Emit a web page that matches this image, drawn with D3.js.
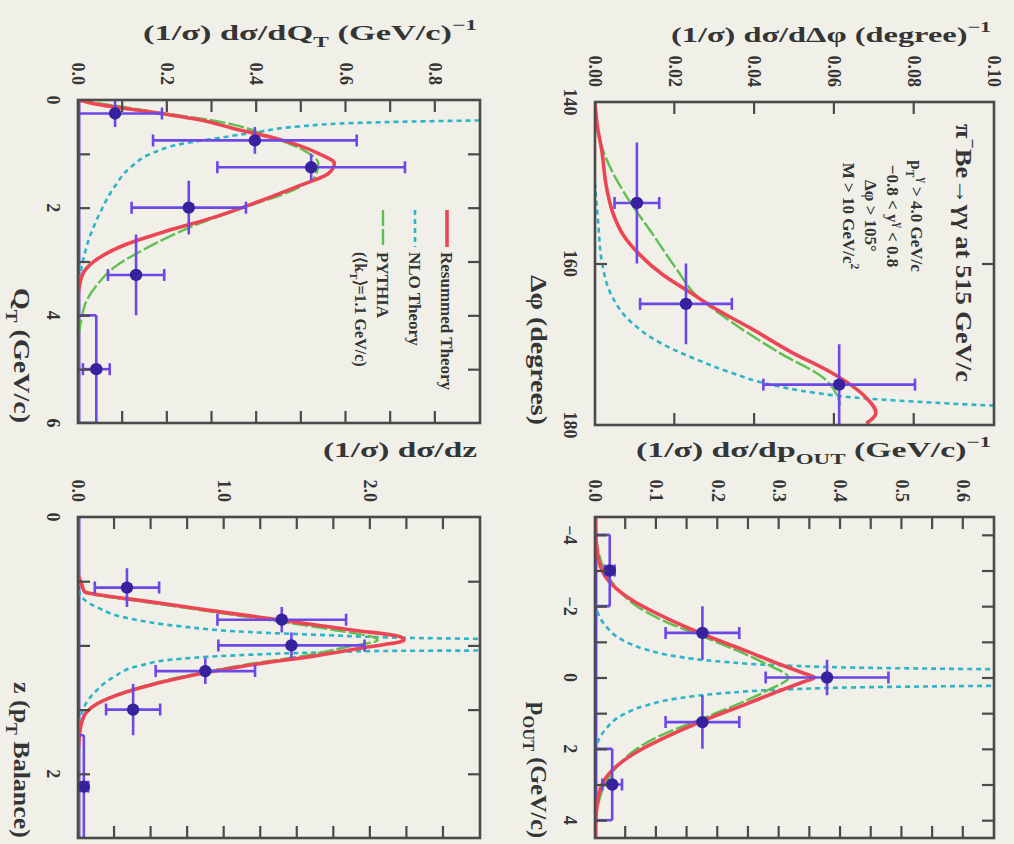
<!DOCTYPE html>
<html>
<head>
<meta charset="utf-8">
<script src="https://cdn.jsdelivr.net/npm/d3@7"></script>
<style>
  html, body { margin: 0; padding: 0; background: #f0f0e9; }
  svg { display: block; }
  text { font-family: "Liberation Serif", "Times New Roman", serif; font-weight: bold; fill: #353535; }
</style>
</head>
<body>
<div id="chart"></div>
<script>
// ------------------------------------------------------------
// values
// ------------------------------------------------------------

// delta phi panel
const dphiBins = [[145, 160], [160, 170], [170, 180]];
const dphiVals = [0.0105, 0.0228, 0.0612];
const dphiErrs = [0.0056, 0.0115, 0.019];
const dphiResummed = [[140, 0], [143, 0.0006], [146, 0.0017], [150.6, 0.0029], [153.9, 0.0046], [156.4, 0.007],
  [158.9, 0.0112], [161.4, 0.017], [163.5, 0.0236], [165.6, 0.0302], [168.1, 0.0393], [171, 0.0493],
  [173.5, 0.0592], [176.4, 0.0675], [178.5, 0.0704], [179.8, 0.068]];
const dphiPythia = [[140, 0], [143.9, 0.0008], [148.9, 0.0046], [152.3, 0.0087], [156.4, 0.0145], [160.6, 0.0203],
  [163.9, 0.0253], [167.3, 0.0344], [171, 0.046], [174.3, 0.0576], [177.5, 0.0615]];
const dphiNLO = [[150, 0], [155, 0.0008], [160, 0.0018], [164, 0.0042], [167, 0.0085], [170, 0.017], [172, 0.026],
  [173.5, 0.034], [175, 0.044], [176, 0.055], [176.6, 0.065], [177.1, 0.08], [177.6, 0.1], [177.8, 0.11]];

// p_OUT panel
const poutBins = [[-4, -2], [-2, -0.5], [-0.5, 0.5], [0.5, 2], [2, 4]];
const poutVals = [0.024, 0.175, 0.378, 0.175, 0.028];
const poutErrs = [0.008, 0.06, 0.1, 0.06, 0.016];
const poutResummed = [[-4.5, 0], [-3.8, 0.002], [-3.1, 0.009], [-2.6, 0.028], [-2.15, 0.062], [-1.65, 0.118],
  [-1.17, 0.182], [-0.74, 0.247], [-0.37, 0.301], [-0.12, 0.34], [0, 0.358], [0.12, 0.34], [0.37, 0.301],
  [0.74, 0.247], [1.17, 0.182], [1.65, 0.118], [2.15, 0.062], [2.6, 0.028], [3.1, 0.009], [3.8, 0.002], [4.5, 0]];
const poutPythia = [[-4.5, 0], [-4, 0.001], [-3.5, 0.006], [-3, 0.016], [-2.5, 0.036], [-2, 0.068], [-1.6, 0.11],
  [-1.2, 0.168], [-0.75, 0.232], [-0.37, 0.28], [0, 0.315], [0.37, 0.28], [0.75, 0.232], [1.2, 0.168],
  [1.6, 0.11], [2, 0.068], [2.5, 0.036], [3, 0.016], [3.5, 0.006], [4, 0.001], [4.5, 0]];
const poutNLOneg = [[-2.1, 0], [-1.5, 0.015], [-1.05, 0.045], [-0.8, 0.08], [-0.6, 0.13], [-0.44, 0.209],
  [-0.33, 0.318], [-0.27, 0.45], [-0.23, 0.66]];
const poutNLOpos = [[0.23, 0.66], [0.27, 0.45], [0.33, 0.318], [0.44, 0.209], [0.6, 0.13], [0.8, 0.08],
  [1.05, 0.045], [1.5, 0.015], [2.1, 0]];

// Q_T panel
const qtBins = [[0, 0.5], [0.5, 1], [1, 1.5], [1.5, 2.5], [2.5, 4], [4, 6]];
const qtVals = [0.083, 0.396, 0.522, 0.248, 0.13, 0.041];
const qtErrs = [0.105, 0.228, 0.21, 0.128, 0.063, 0.03];
const qtResummed = [[0, 0], [0.06, 0.03], [0.25, 0.185], [0.37, 0.274], [0.53, 0.348], [0.75, 0.459], [1.0, 0.54],
  [1.18, 0.574], [1.37, 0.56], [1.59, 0.496], [1.9, 0.4], [2.18, 0.304], [2.43, 0.2], [2.67, 0.111],
  [2.95, 0.044], [3.17, 0.015], [3.42, 0.004], [3.7, 0], [6, 0]];
const qtPythia = [[0, 0], [0.19, 0.148], [0.43, 0.333], [0.68, 0.43], [0.93, 0.504], [1.18, 0.538], [1.43, 0.53],
  [1.68, 0.48], [2.02, 0.363], [2.36, 0.252], [2.74, 0.156], [3.11, 0.081], [3.42, 0.044], [3.73, 0.019],
  [4.1, 0.007], [4.48, 0.001], [5, 0], [6, 0]];
const qtNLO = [[0.37, 1.0], [0.38, 0.9], [0.42, 0.644], [0.49, 0.496], [0.59, 0.407], [0.71, 0.311], [0.82, 0.23],
  [1.0, 0.163], [1.24, 0.119], [1.62, 0.081], [2.05, 0.052], [2.55, 0.026], [2.99, 0.011], [3.3, 0.004], [3.6, 0]];

// z panel
const zBins = [[0.4, 0.7], [0.7, 0.9], [0.9, 1.1], [1.1, 1.3], [1.3, 1.7], [1.7, 2.5]];
const zVals = [0.335, 1.394, 1.46, 0.871, 0.377, 0.04];
const zErrs = [0.22, 0.44, 0.5, 0.34, 0.185, 0.03];
const zResummed = [[0, 0], [0.43, 0], [0.52, 0.024], [0.585, 0.047], [0.603, 0.127], [0.657, 0.474], [0.733, 0.936],
  [0.805, 1.4], [0.878, 1.86], [0.935, 2.21], [0.96, 2.23], [1.013, 1.98], [1.08, 1.63], [1.155, 1.17],
  [1.246, 0.728], [1.337, 0.404], [1.43, 0.173], [1.52, 0.058], [1.61, 0.023], [1.74, 0.007], [1.85, 0], [2.5, 0]];
const zPythia = [[0.45, 0], [0.55, 0.03], [0.6, 0.1], [0.66, 0.45], [0.735, 0.9], [0.81, 1.35], [0.88, 1.75],
  [0.94, 2.03], [0.96, 2.05], [1.01, 1.85], [1.08, 1.55], [1.155, 1.12], [1.246, 0.7], [1.34, 0.38],
  [1.43, 0.17], [1.52, 0.06], [1.6, 0.02], [1.7, 0]];
const zNLOlow = [[0.5, 0], [0.597, 0.0125], [0.701, 0.127], [0.792, 0.358], [0.852, 0.705], [0.896, 1.168],
  [0.922, 1.745], [0.94, 2.207], [0.95, 2.8]];
const zNLOhigh = [[1.04, 2.8], [1.042, 2.207], [1.055, 1.63], [1.073, 1.168], [1.104, 0.705], [1.156, 0.428],
  [1.247, 0.243], [1.351, 0.127], [1.455, 0.053], [1.533, 0.023], [1.6, 0]];

// ticks and labels
const dphiXLabels = [140, 160, 180], dphiXTicks = [160];
const dphiYLabels = [0, 0.02, 0.04, 0.06, 0.08, 0.10], dphiYTicks = [0.02, 0.04, 0.06, 0.08];
const poutXLabels = [-4, -2, 0, 2, 4], poutXTicks = [-4, -3, -2, -1, 0, 1, 2, 3, 4];
const poutYLabels = [0, 0.1, 0.2, 0.3, 0.4, 0.5, 0.6];
const poutYTicks = [0.05, 0.1, 0.15, 0.2, 0.25, 0.3, 0.35, 0.4, 0.45, 0.5, 0.55, 0.6];
const qtXLabels = [0, 2, 4, 6], qtXTicks = [1, 2, 3, 4, 5];
const qtYLabels = [0, 0.2, 0.4, 0.6, 0.8], qtYTicks = [0.1, 0.2, 0.3, 0.4, 0.5, 0.6, 0.7, 0.8];
const zXLabels = [0, 2], zXTicks = [0.5, 1, 1.5, 2];
const zYLabels = [0, 1, 2], zYTicks = [0.25, 0.5, 0.75, 1, 1.25, 1.5, 1.75, 2, 2.25, 2.5];

const legendNames = ["Resummed Theory", "NLO Theory", "PYTHIA"];

// ------------------------------------------------------------
// styles
// ------------------------------------------------------------
const BG = "#f0f0e9";
const FRAME = "#4a4a4a";
const BAR = "#6c48e6";
const DOT = "#35229c";
const curveStyle = {
  resummed: { stroke: "#ec4655", width: 3.6, dash: null },
  pythia: { stroke: "#5fbf4f", width: 2.4, dash: "16,3" },
  nlo: { stroke: "#2cb4c8", width: 2.6, dash: "5,4" }
};

const WIDTH = 1014, HEIGHT = 844;

const svg = d3.select("#chart").append("svg")
  .attr("width", WIDTH)
  .attr("height", HEIGHT);

svg.append("rect").attr("width", WIDTH).attr("height", HEIGHT).attr("fill", BG);

// the whole figure is turned a quarter turn clockwise
const root = svg.append("g").attr("transform", `translate(${WIDTH},0) rotate(90)`);

// text with sub / superscript pieces
function richText(el, parts, fs) {
  let shift = 0;
  parts.forEach(([t, kind]) => {
    const target = kind === "sub" ? 0.32 * fs : kind === "sup" ? -0.45 * fs : 0;
    el.append("tspan")
      .attr("dy", target - shift)
      .attr("font-size", kind ? fs * 0.68 : fs)
      .text(t);
    shift = target;
  });
}

function drawPanel(p) {
  const g = root.append("g").attr("transform", `translate(${p.u0},${p.v0})`);
  const x = d3.scaleLinear().domain(p.xDomain).range([0, p.w]);
  const y = d3.scaleLinear().domain(p.yDomain).range([p.h, 0]);

  const clipId = "clip-" + p.id;
  g.append("clipPath").attr("id", clipId)
    .append("rect").attr("width", p.w).attr("height", p.h);
  const plot = g.append("g").attr("clip-path", `url(#${clipId})`);

  if (p.zeroLine) {
    plot.append("line")
      .attr("x1", 0).attr("x2", p.w)
      .attr("y1", y(0) - 1).attr("y2", y(0) - 1)
      .attr("stroke", BAR).attr("stroke-width", 3);
  }

  // theory curves
  const line = d3.line()
    .x(d => x(d[0]))
    .y(d => y(d[1]))
    .curve(d3.curveMonotoneX);

  p.curves.forEach(([data, kind]) => {
    const s = curveStyle[kind];
    plot.append("path")
      .attr("d", line(data))
      .attr("fill", "none")
      .attr("stroke", s.stroke)
      .attr("stroke-width", s.width)
      .attr("stroke-dasharray", s.dash)
      .attr("stroke-linejoin", "round");
  });

  // data points
  const pts = p.bins.map((b, i) => ({ lo: b[0], hi: b[1], val: p.vals[i], err: p.errs[i], i }));
  const bars = plot.append("g")
    .attr("stroke", BAR)
    .attr("stroke-width", 2.6);

  pts.forEach(d => {
    const yc = y(d.val);
    const xc = x((d.lo + d.hi) / 2);
    bars.append("line").attr("x1", x(d.lo)).attr("x2", x(d.hi)).attr("y1", yc).attr("y2", yc);
    bars.append("line").attr("x1", xc).attr("x2", xc).attr("y1", y(d.val - d.err)).attr("y2", y(d.val + d.err));
    [d.val - d.err, d.val + d.err].forEach(v => {
      bars.append("line").attr("x1", xc - 6).attr("x2", xc + 6).attr("y1", y(v)).attr("y2", y(v));
    });
    if (p.brackets.includes(d.i)) {
      [d.lo, d.hi].forEach(e => {
        bars.append("line").attr("x1", x(e)).attr("x2", x(e)).attr("y1", y(0)).attr("y2", yc);
      });
    }
  });

  g.append("g")
    .selectAll("circle")
    .data(pts)
    .join("circle")
    .attr("cx", d => x((d.lo + d.hi) / 2))
    .attr("cy", d => y(d.val))
    .attr("r", 6.2)
    .attr("fill", DOT);

  // frame
  g.append("rect")
    .attr("width", p.w).attr("height", p.h)
    .attr("fill", "none")
    .attr("stroke", FRAME)
    .attr("stroke-width", 2.6);

  // inward ticks on all four sides
  const TICK = 12;
  const tickAxes = [
    [d3.axisBottom(x).tickValues(p.xTicks), `translate(0,${p.h})`],
    [d3.axisTop(x).tickValues(p.xTicks), "translate(0,0)"],
    [d3.axisLeft(y).tickValues(p.yTicks), "translate(0,0)"],
    [d3.axisRight(y).tickValues(p.yTicks), `translate(${p.w},0)`]
  ];
  tickAxes.forEach(([ax, tr]) => {
    const a = g.append("g")
      .attr("transform", tr)
      .call(ax.tickSizeInner(-TICK).tickSizeOuter(0).tickFormat(""));
    a.select(".domain").remove();
    a.selectAll(".tick line").attr("stroke", FRAME).attr("stroke-width", 2.2);
  });

  // tick labels
  const yl = g.append("g")
    .call(d3.axisLeft(y).tickValues(p.yLabels).tickSize(0).tickPadding(15).tickFormat(d3.format(p.yFormat)));
  yl.select(".domain").remove();
  yl.selectAll("text")
    .attr("font-size", 18)
    .attr("font-family", null)
    .attr("fill", "#353535");

  g.append("g")
    .selectAll("text")
    .data(p.xLabels)
    .join("text")
    .attr("x", d => x(d))
    .attr("y", p.h + 31)
    .attr("text-anchor", "middle")
    .attr("font-size", 18)
    .text(d => d3.format("d")(d));

  // axis titles
  const yt = g.append("text")
    .attr("transform", `translate(-60,3) rotate(-90)`)
    .attr("text-anchor", "end")
    .attr("textLength", p.yTitleLen)
    .attr("lengthAdjust", "spacingAndGlyphs");
  richText(yt, p.yTitle, 22);

  const xt = g.append("text")
    .attr("x", p.w)
    .attr("y", p.h + 64)
    .attr("text-anchor", "end")
    .attr("textLength", p.xTitleLen)
    .attr("lengthAdjust", "spacingAndGlyphs");
  richText(xt, p.xTitle, 24);

  return g;
}

const gDphi = drawPanel({
  id: "dphi", u0: 102, v0: 20, w: 323, h: 399,
  xDomain: [140, 180], yDomain: [0, 0.10],
  xTicks: dphiXTicks, xLabels: dphiXLabels, yTicks: dphiYTicks, yLabels: dphiYLabels, yFormat: ".2f",
  bins: dphiBins, vals: dphiVals, errs: dphiErrs, brackets: [], zeroLine: false,
  curves: [[dphiNLO, "nlo"], [dphiPythia, "pythia"], [dphiResummed, "resummed"]],
  yTitle: [["(1/σ) dσ/dΔφ (degree)", ""], ["−1", "sup"]], yTitleLen: 320,
  xTitle: [["Δφ (degrees)", ""]], xTitleLen: 150
});

drawPanel({
  id: "pout", u0: 517, v0: 20, w: 321, h: 399,
  xDomain: [-4.5, 4.5], yDomain: [0, 0.65],
  xTicks: poutXTicks, xLabels: poutXLabels, yTicks: poutYTicks, yLabels: poutYLabels, yFormat: ".1f",
  bins: poutBins, vals: poutVals, errs: poutErrs, brackets: [0, 4], zeroLine: true,
  curves: [[poutNLOneg, "nlo"], [poutNLOpos, "nlo"], [poutPythia, "pythia"], [poutResummed, "resummed"]],
  yTitle: [["(1/σ) dσ/dp", ""], ["OUT", "sub"], [" (GeV/c)", ""], ["−1", "sup"]], yTitleLen: 355,
  xTitle: [["p", ""], ["OUT", "sub"], [" (GeV/c)", ""]], xTitleLen: 136
});

const gQt = drawPanel({
  id: "qt", u0: 100, v0: 534, w: 323, h: 402,
  xDomain: [0, 6], yDomain: [0, 0.9],
  xTicks: qtXTicks, xLabels: qtXLabels, yTicks: qtYTicks, yLabels: qtYLabels, yFormat: ".1f",
  bins: qtBins, vals: qtVals, errs: qtErrs, brackets: [5], zeroLine: true,
  curves: [[qtNLO, "nlo"], [qtPythia, "pythia"], [qtResummed, "resummed"]],
  yTitle: [["(1/σ) dσ/dQ", ""], ["T", "sub"], [" (GeV/c)", ""], ["−1", "sup"]], yTitleLen: 334,
  xTitle: [["Q", ""], ["T", "sub"], [" (GeV/c)", ""]], xTitleLen: 135
});

drawPanel({
  id: "z", u0: 517, v0: 534, w: 321, h: 402,
  xDomain: [0, 2.5], yDomain: [0, 2.75],
  xTicks: zXTicks, xLabels: zXLabels, yTicks: zYTicks, yLabels: zYLabels, yFormat: ".1f",
  bins: zBins, vals: zVals, errs: zErrs, brackets: [5], zeroLine: true,
  curves: [[zNLOlow, "nlo"], [zNLOhigh, "nlo"], [zPythia, "pythia"], [zResummed, "resummed"]],
  yTitle: [["(1/σ) dσ/dz", ""]], yTitleLen: 154,
  xTitle: [["z (p", ""], ["T", "sub"], [" Balance)", ""]], xTitleLen: 156
});

// annotation in the delta phi panel
const ann = gDphi.append("g");
const annTitle = ann.append("text")
  .attr("x", 151).attr("y", 38)
  .attr("text-anchor", "middle")
  .attr("textLength", 258)
  .attr("lengthAdjust", "spacingAndGlyphs");
richText(annTitle, [["π", ""], ["−", "sup"], ["Be→γγ at 515 GeV/c", ""]], 24);

const annLines = [
  [["p", ""], ["T", "sub"], ["γ", "sup"], [" > 4.0 GeV/c", ""]],
  [["−0.8 < y", ""], ["γ", "sup"], [" < 0.8", ""]],
  [["Δφ > 105°", ""]],
  [["M > 10 GeV/c", ""], ["2", "sup"]]
];
const annY = [83, 107, 129, 151];
annLines.forEach((parts, i) => {
  const t = ann.append("text")
    .attr("x", 114).attr("y", annY[i])
    .attr("text-anchor", "middle");
  richText(t, parts, 17);
});

// legend in the Q_T panel
const legendKinds = ["resummed", "nlo", "pythia"];
const legend = gQt.append("g");
legendNames.forEach((name, i) => {
  const yy = 33 + i * 32;
  const s = curveStyle[legendKinds[i]];
  legend.append("line")
    .attr("x1", 110).attr("x2", 147)
    .attr("y1", yy).attr("y2", yy)
    .attr("stroke", s.stroke)
    .attr("stroke-width", s.width)
    .attr("stroke-dasharray", s.dash);
  legend.append("text")
    .attr("x", 152).attr("y", yy + 6)
    .attr("font-size", 17)
    .text(name);
});
const kt = legend.append("text")
  .attr("x", 152).attr("y", 33 + 2 * 32 + 28);
richText(kt, [["(⟨k", ""], ["T", "sub"], ["⟩=1.1 GeV/c)", ""]], 16);
</script>
</body>
</html>
